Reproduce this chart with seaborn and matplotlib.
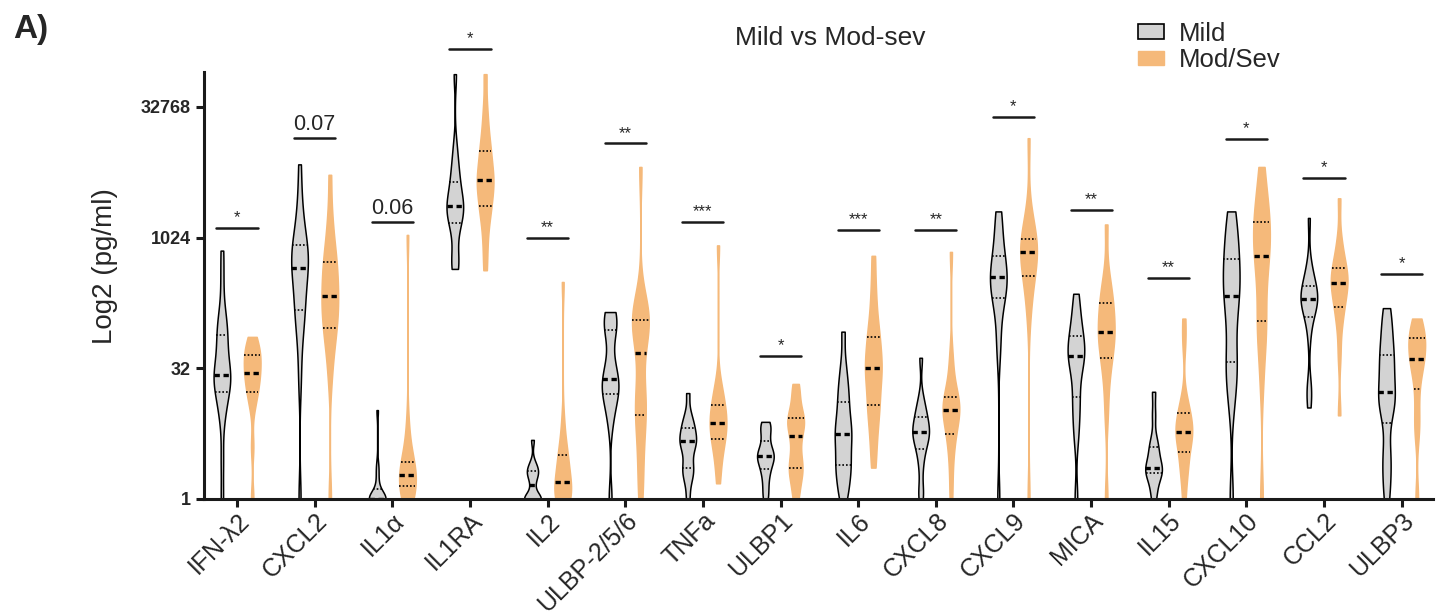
import numpy as np
import pandas as pd
import seaborn as sns
import matplotlib.pyplot as plt
from matplotlib.patches import Patch
from matplotlib.colors import to_rgb

# categories and groups
cytokines = ['IFN-λ2', 'CXCL2', 'IL1α', 'IL1RA', 'IL2', 'ULBP-2/5/6', 'TNFa', 'ULBP1',
             'IL6', 'CXCL8', 'CXCL9', 'MICA', 'IL15', 'CXCL10', 'CCL2', 'ULBP3']
groups = ['Mild', 'Mod/Sev']

# log2 (pg/ml) values
ifn_mild = [0, 1.5, 3.0, 3.6, 3.8, 4.2, 4.5, 4.6, 4.7, 4.7, 4.8, 5.2, 5.6, 6.0, 6.2, 6.5, 6.8, 7.2, 8.4, 9.5]
ifn_sev = [0, 2.0, 3.5, 3.9, 4.1, 4.3, 4.6, 4.7, 4.8, 5.0, 5.2, 5.4, 5.5, 5.6, 5.8, 6.0, 6.2]
cxcl2_mild = [0, 4.5, 5.8, 6.6, 7.0, 7.3, 7.6, 8.0, 8.5, 8.8, 8.9, 9.0, 9.2, 9.5, 9.7, 9.8, 10.2, 10.8, 11.5, 12.8]
cxcl2_sev = [0, 4.6, 5.5, 6.0, 6.4, 6.6, 6.9, 7.2, 7.5, 7.7, 7.8, 8.1, 8.5, 8.8, 9.0, 9.2, 9.6, 10.2, 10.9, 12.4]
il1a_mild = [0, 0, 0, 0, 0, 0, 0, 0, 0, 0, 0, 0.3, 0.6, 1.0, 1.3, 3.4]
il1a_sev = [0, 0, 0, 0.3, 0.5, 0.6, 0.7, 0.8, 0.9, 1.0, 1.1, 1.2, 1.4, 1.7, 2.1, 2.9, 10.1]
il1ra_mild = [8.8, 9.0, 9.2, 10.0, 10.5, 10.7, 10.9, 11.0, 11.1, 11.3, 11.4, 11.6, 11.9, 12.2, 12.5, 12.9, 13.5, 16.25]
il1ra_sev = [8.75, 9.6, 10.3, 10.8, 11.1, 11.3, 11.6, 11.9, 12.1, 12.2, 12.3, 12.6, 12.9, 13.2, 13.4, 13.8, 14.3, 15.0, 16.25]
il2_mild = [0, 0, 0, 0, 0, 0, 0.4, 0.7, 0.9, 1.0, 1.1, 1.2, 1.4, 2.26]
il2_sev = [0, 0, 0, 0, 0, 0.3, 0.5, 0.6, 0.65, 1.0, 1.2, 1.4, 1.7, 1.8, 2.2, 3.0, 8.3]
ulbp256_mild = [0, 2.9, 3.5, 3.9, 4.1, 4.3, 4.4, 4.6, 4.9, 5.3, 6.3, 6.6, 6.8, 7.0, 7.15]
ulbp256_sev = [0, 0.8, 1.7, 2.4, 3.0, 3.4, 3.7, 3.9, 4.6, 5.6, 6.2, 6.5, 6.7, 6.8, 6.9, 7.1, 7.3, 7.6, 12.7]
tnfa_mild = [0, 0.6, 0.9, 1.1, 1.2, 1.5, 1.8, 2.0, 2.2, 2.2, 2.3, 2.5, 2.7, 2.8, 3.0, 3.3, 4.05]
tnfa_sev = [0.6, 1.2, 1.7, 2.0, 2.3, 2.4, 2.6, 2.8, 2.9, 3.0, 3.2, 3.4, 3.6, 3.8, 4.1, 4.4, 9.7]
ulbp1_mild = [0, 0.4, 0.8, 1.1, 1.3, 1.5, 1.6, 1.7, 1.8, 2.0, 2.3, 2.6, 2.8, 2.95]
ulbp1_sev = [0, 0.5, 0.9, 1.1, 1.3, 1.6, 2.0, 2.4, 2.7, 2.9, 3.0, 3.2, 3.5, 4.0, 4.4]
il6_mild = [0, 0.3, 0.7, 1.0, 1.2, 1.4, 1.7, 2.0, 2.3, 2.5, 2.6, 2.9, 3.2, 3.5, 3.9, 4.2, 4.6, 5.2, 6.4]
il6_sev = [1.2, 2.0, 2.6, 3.1, 3.5, 3.7, 4.1, 4.5, 4.8, 5.0, 5.1, 5.4, 5.8, 6.1, 6.3, 6.8, 7.4, 8.2, 9.3]
cxcl8_mild = [0, 0.4, 1.2, 1.7, 2.0, 2.2, 2.4, 2.5, 2.6, 2.7, 2.9, 3.1, 3.3, 3.5, 3.9, 5.4]
cxcl8_sev = [0, 1.0, 1.8, 2.3, 2.5, 2.9, 3.2, 3.3, 3.4, 3.5, 3.6, 3.8, 3.9, 4.2, 4.8, 5.5, 9.45]
cxcl9_mild = [0, 5.6, 6.3, 7.3, 7.7, 7.9, 8.1, 8.3, 8.5, 8.5, 8.7, 9.0, 9.3, 9.6, 10.2, 10.7, 11.0]
cxcl9_sev = [0, 7.0, 7.8, 8.3, 8.6, 8.9, 9.2, 9.4, 9.5, 9.6, 9.7, 9.9, 10.1, 10.4, 10.9, 13.8]
mica_mild = [0, 2.3, 3.0, 3.6, 4.0, 4.7, 5.2, 5.4, 5.5, 5.6, 5.9, 6.2, 6.4, 6.8, 7.3, 7.85]
mica_sev = [0, 3.2, 4.3, 5.0, 5.4, 5.7, 6.0, 6.3, 6.4, 6.5, 6.9, 7.2, 7.5, 7.7, 8.0, 8.6, 10.5]
il15_mild = [0, 0.4, 0.8, 1.0, 1.1, 1.15, 1.2, 1.5, 1.8, 2.0, 2.3, 3.2, 4.1]
il15_sev = [0, 0.8, 1.2, 1.5, 1.9, 2.2, 2.4, 2.5, 2.6, 2.8, 3.0, 3.2, 3.5, 3.8, 6.0, 6.9]
cxcl10_mild = [0, 3.6, 4.5, 5.0, 5.3, 6.2, 7.0, 7.6, 7.9, 8.2, 8.6, 9.1, 9.4, 9.9, 10.5, 11.0]
cxcl10_sev = [0, 4.5, 5.9, 6.4, 6.8, 7.6, 8.4, 9.0, 9.3, 9.6, 10.0, 10.3, 10.6, 10.9, 11.3, 11.9, 12.7]
ccl2_mild = [3.5, 4.1, 4.3, 6.2, 6.9, 7.2, 7.3, 7.5, 7.6, 7.7, 7.7, 7.8, 8.0, 8.2, 8.3, 8.6, 9.0, 10.75]
ccl2_sev = [3.2, 5.5, 6.6, 7.1, 7.4, 7.7, 8.0, 8.2, 8.3, 8.4, 8.6, 8.8, 9.0, 9.4, 9.9, 11.5]
ulbp3_mild = [0, 0.8, 1.4, 2.0, 3.2, 3.6, 3.8, 3.9, 4.3, 4.8, 5.2, 5.4, 5.8, 6.3, 6.8, 7.3]
ulbp3_sev = [0, 2.5, 3.1, 4.0, 4.8, 5.2, 5.3, 5.4, 5.8, 6.1, 6.2, 6.3, 6.5, 6.9]

mild_values = [ifn_mild, cxcl2_mild, il1a_mild, il1ra_mild, il2_mild, ulbp256_mild, tnfa_mild, ulbp1_mild,
               il6_mild, cxcl8_mild, cxcl9_mild, mica_mild, il15_mild, cxcl10_mild, ccl2_mild, ulbp3_mild]
sev_values = [ifn_sev, cxcl2_sev, il1a_sev, il1ra_sev, il2_sev, ulbp256_sev, tnfa_sev, ulbp1_sev,
              il6_sev, cxcl8_sev, cxcl9_sev, mica_sev, il15_sev, cxcl10_sev, ccl2_sev, ulbp3_sev]

# significance marks and bar heights (log2 units)
sig_labels = ['*', '0.07', '0.06', '*', '**', '**', '***', '*', '***', '**', '*', '**', '**', '*', '*', '*']
sig_levels = [10.36, 13.8, 10.6, 17.2, 10.0, 13.6, 10.6, 5.47, 10.3, 10.3, 14.6, 11.05, 8.45, 13.77, 12.28, 8.6]

y_ticks = [0, 5, 10, 15]
y_ticklabels = ['1', '32', '1024', '32768']

rows = []
for name, m, s in zip(cytokines, mild_values, sev_values):
    rows += [(name, 'Mild', v) for v in m]
    rows += [(name, 'Mod/Sev', v) for v in s]
df = pd.DataFrame(rows, columns=['cytokine', 'group', 'log2'])

sns.set_style('ticks')
plt.rcParams['font.family'] = ['Liberation Sans', 'DejaVu Sans']

grey = '#d3d3d3'
orange = '#f5b97a'

fig = plt.figure(figsize=(14.37, 6.16), dpi=100)
ax = fig.add_axes([0.142, 0.19, 0.855, 0.693])

sns.violinplot(data=df, x='cytokine', y='log2', hue='group', order=cytokines, hue_order=groups,
               palette={'Mild': grey, 'Mod/Sev': orange}, saturation=1, inner='quart', cut=0,
               density_norm='width', width=0.78, gap=0.45, bw_adjust=0.55, linewidth=1.1,
               linecolor='black', legend=False, ax=ax)

# orange violins get orange outlines
orange_rgb = np.array(to_rgb(orange))
for coll in ax.collections:
    fc = coll.get_facecolor()
    if len(fc) and np.allclose(fc[0][:3], orange_rgb, atol=0.02):
        coll.set_edgecolor(orange)

# quartiles dotted, median thick dashed
for i, line in enumerate(ax.lines):
    if i % 3 == 1:
        line.set_linewidth(2.4)
        line.set_dashes((1.6, 1.1))
    else:
        line.set_linewidth(1.2)
        line.set_dashes((1.0, 1.2))

ax.set_xlim(-0.425, 15.4)
ax.set_ylim(0, 16.33)
ax.set_yticks(y_ticks)
ax.set_yticklabels(y_ticklabels, fontsize=13, fontweight='bold')
ax.set_xticks(range(len(cytokines)))
ax.set_xticklabels(cytokines, rotation=45, ha='right', va='top', rotation_mode='anchor', fontsize=18)
ax.set_xlabel('')
ax.set_ylabel('Log2 (pg/ml)', fontsize=20)
ax.yaxis.set_label_coords(-0.070, 0.546)
ax.tick_params(axis='both', width=2.2, length=6, color='#1a1a1a')
ax.tick_params(axis='x', pad=1)
for side in ['left', 'bottom']:
    ax.spines[side].set_linewidth(2.2)
    ax.spines[side].set_color('#1a1a1a')
sns.despine(ax=ax)

for i, (lab, lev) in enumerate(zip(sig_labels, sig_levels)):
    ax.plot([i - 0.265, i + 0.265], [lev, lev], color='#1a1a1a', lw=1.8, clip_on=False)
    ax.annotate(lab, (i, lev), xytext=(0, 2), textcoords='offset points', ha='center', va='bottom',
                fontsize=12 if '*' in lab else 15.5, annotation_clip=False)

fig.text(0.578, 0.938, 'Mild vs Mod-sev', fontsize=19, ha='center', va='center')
fig.text(0.009, 0.952, 'A)', fontsize=24, fontweight='bold', ha='left', va='center')

handles = [Patch(facecolor=grey, edgecolor='black', linewidth=1.2, label='Mild'),
           Patch(facecolor=orange, edgecolor=orange, label='Mod/Sev')]
fig.legend(handles=handles, loc='upper left', bbox_to_anchor=(0.792, 0.965), frameon=False,
           fontsize=18.5, handlelength=1.0, handleheight=0.5, handletextpad=0.6,
           labelspacing=0.1, borderpad=0, borderaxespad=0)

fig.savefig('out.png', dpi=100)
